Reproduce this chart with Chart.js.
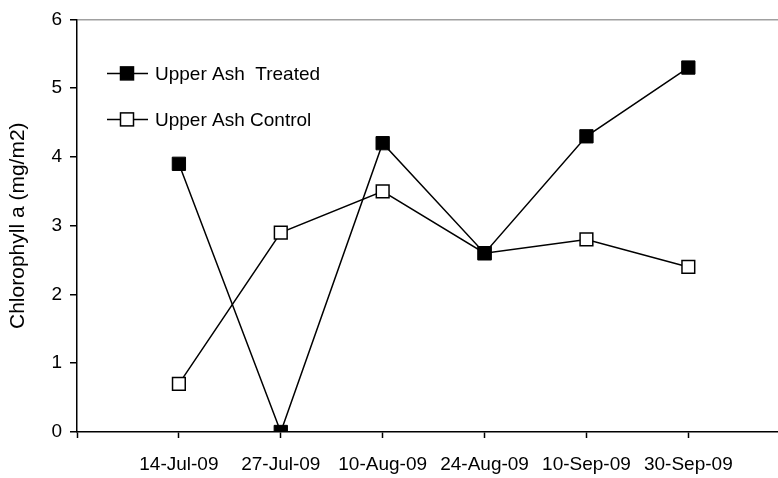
<!DOCTYPE html>
<html>
<head>
<meta charset="utf-8">
<script src="https://cdn.jsdelivr.net/npm/chart.js@4"></script>
<style>
  body { margin: 0; background: #fff; }
  #wrap { width: 778px; height: 478px; }
</style>
</head>
<body>
<div id="wrap"><canvas id="chl" width="778" height="478"></canvas></div>
<script>
const dates = ["14-Jul-09", "27-Jul-09", "10-Aug-09", "24-Aug-09", "10-Sep-09", "30-Sep-09"];
const treated = [3.9, 0, 4.2, 2.6, 4.3, 5.3];
const control = [0.7, 2.9, 3.5, 2.6, 2.8, 2.4];
const yTicks = [0, 1, 2, 3, 4, 5, 6];

const font = { family: "'Liberation Sans', Arial, sans-serif", size: 19 };

// legend drawn inside the plot: line with the marker on it
const insideLegend = {
  id: "insideLegend",
  afterDraw(chart) {
    const ctx = chart.ctx;
    const a = chart.chartArea;
    ctx.save();
    chart.data.datasets.forEach((ds, i) => {
      const y = a.top + 54 + i * 46;
      const x0 = a.left + 30;
      ctx.strokeStyle = "#000";
      ctx.lineWidth = 1.5;
      ctx.beginPath();
      ctx.moveTo(x0, y);
      ctx.lineTo(x0 + 41, y);
      ctx.stroke();
      const s = 6.5;
      ctx.fillStyle = ds.pointBackgroundColor;
      ctx.fillRect(x0 + 20 - s, y - s, 2 * s, 2 * s);
      ctx.strokeRect(x0 + 20 - s, y - s, 2 * s, 2 * s);
      ctx.fillStyle = "#000";
      ctx.font = font.size + "px " + font.family;
      ctx.textBaseline = "middle";
      ctx.fillText(ds.label, x0 + 48, y + 1);
    });
    ctx.restore();
  }
};

new Chart(document.getElementById("chl"), {
  type: "line",
  data: {
    datasets: [
      {
        label: "Upper Ash  Treated",
        data: treated.map((v, i) => ({ x: i + 1, y: v })),
        borderColor: "#000",
        borderWidth: 1.5,
        pointStyle: "rect",
        pointRadius: 9.4,
        pointBackgroundColor: "#000",
        pointBorderColor: "#000",
        pointBorderWidth: 1,
      },
      {
        label: "Upper Ash Control",
        data: control.map((v, i) => ({ x: i + 1, y: v })),
        borderColor: "#000",
        borderWidth: 1.5,
        pointStyle: "rect",
        pointRadius: 9,
        pointBackgroundColor: "#fff",
        pointBorderColor: "#000",
        pointBorderWidth: 1.5,
      },
    ],
  },
  options: {
    responsive: false,
    animation: false,
    layout: { autoPadding: false, padding: { top: 18, right: 0, left: 0, bottom: 0 } },
    plugins: {
      legend: { display: false },
      tooltip: { enabled: false },
    },
    scales: {
      x: {
        type: "linear",
        min: 0,
        max: 6.88,
        afterBuildTicks: (s) => { s.ticks = [0, 1, 2, 3, 4, 5, 6].map((v) => ({ value: v })); },
        afterFit: (s) => { s.height = 46; s.paddingLeft = 0; s.paddingRight = 0; },
        ticks: {
          autoSkip: false,
          maxRotation: 0,
          color: "#000",
          font: font,
          padding: 15,
          callback: (v) => dates[v - 1] || "",
        },
        grid: { drawOnChartArea: false, tickLength: 6, tickColor: "#000", tickWidth: 1.5 },
        border: { color: "#000", width: 1.5 },
      },
      y: {
        min: 0,
        max: 6,
        afterBuildTicks: (s) => { s.ticks = yTicks.map((v) => ({ value: v })); },
        afterFit: (s) => { s.width = 77; },
        ticks: { color: "#000", font: font, padding: 8 },
        title: {
          display: true,
          text: "Chlorophyll a (mg/m2)",
          color: "#000",
          font: { family: font.family, size: 21 },
          padding: { top: 6, bottom: 0 },
        },
        grid: {
          drawOnChartArea: true,
          color: (c) => (c.tick && c.tick.value === 6 ? "#a0a0a0" : "rgba(0,0,0,0)"),
          lineWidth: 1.5,
          tickLength: 7,
          tickColor: "#000",
          tickWidth: 1.5,
        },
        border: { color: "#000", width: 1.5 },
      },
    },
  },
  plugins: [insideLegend],
});
</script>
</body>
</html>
